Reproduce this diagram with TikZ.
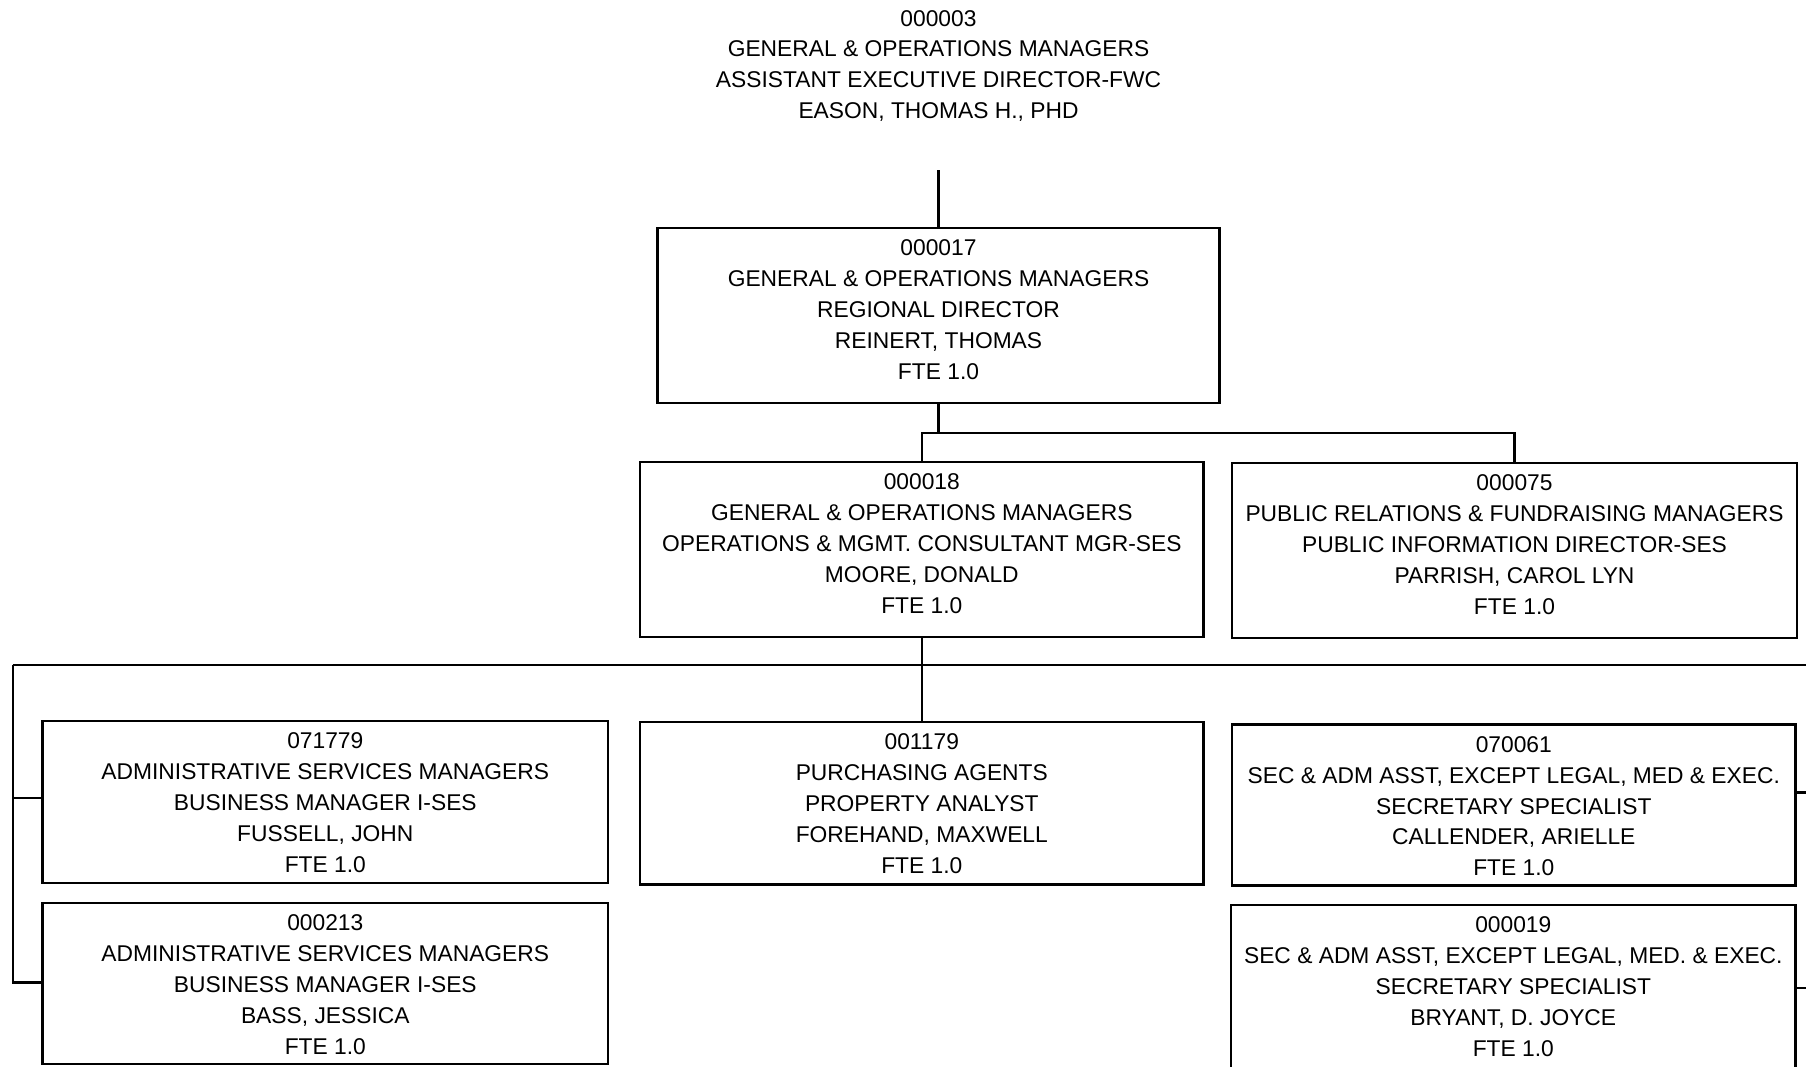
\documentclass[tikz,border=0pt]{standalone}
\usepackage{fontspec}
\setmainfont{Liberation Sans}
\begin{document}
\begin{tikzpicture}[x=1pt,y=-1pt,
  box/.style={draw=black, line width=2.3pt, rectangle, inner sep=0pt},
  txt/.style={align=center, inner sep=0pt, anchor=north,
    font=\fontsize{22.8}{30.8}\selectfont},
  conn/.style={draw=black, line width=2.1pt}]
\useasboundingbox (0,0) rectangle (1806,1066);
\clip (0,0) rectangle (1806,1066);

% top position (no frame)
\node[txt] (t03) at (938.5,10) {000003\\GENERAL \& OPERATIONS MANAGERS\\ASSISTANT EXECUTIVE DIRECTOR-FWC\\EASON, THOMAS H., PHD};
\coordinate (t03foot) at (938.5,170);

% boxes
\node[box, minimum width=562pt, minimum height=175pt] (b17) at (938.5,315.5) {};
\node[box, minimum width=563.6pt, minimum height=175pt] (b18) at (921.8,549.5) {};
\node[box, minimum width=565pt, minimum height=175pt] (b75) at (1514.5,550.5) {};
\node[box, minimum width=565.4pt, minimum height=162pt] (b71779) at (325.3,802) {};
\node[box, minimum width=565.4pt, minimum height=161pt] (b213) at (325.3,983.5) {};
\node[box, minimum width=563.5pt, minimum height=162.6pt] (b1179) at (921.8,803.3) {};
\node[box, minimum width=563.6pt, minimum height=161pt] (b70061) at (1513.8,805) {};
\node[box, minimum width=564.6pt, minimum height=163pt] (b19) at (1513.3,986.5) {};

% box texts
\node[txt] (t17) at ([yshift=-13pt]b17.north) {000017\\GENERAL \& OPERATIONS MANAGERS\\REGIONAL DIRECTOR\\REINERT, THOMAS\\FTE 1.0};
\node[txt] (t18) at ([yshift=-13pt]b18.north) {000018\\GENERAL \& OPERATIONS MANAGERS\\OPERATIONS \& MGMT. CONSULTANT MGR-SES\\MOORE, DONALD\\FTE 1.0};
\node[txt] (t75) at ([yshift=-13pt]b75.north) {000075\\PUBLIC RELATIONS \& FUNDRAISING MANAGERS\\PUBLIC INFORMATION DIRECTOR-SES\\PARRISH, CAROL LYN\\FTE 1.0};
\node[txt] (t71779) at ([yshift=-13pt]b71779.north) {071779\\ADMINISTRATIVE SERVICES MANAGERS\\BUSINESS MANAGER I-SES\\FUSSELL, JOHN\\FTE 1.0};
\node[txt] (t213) at ([yshift=-13pt]b213.north) {000213\\ADMINISTRATIVE SERVICES MANAGERS\\BUSINESS MANAGER I-SES\\BASS, JESSICA\\FTE 1.0};
\node[txt] (t1179) at ([yshift=-13pt]b1179.north) {001179\\PURCHASING AGENTS\\PROPERTY ANALYST\\FOREHAND, MAXWELL\\FTE 1.0};
\node[txt] (t70061) at ([yshift=-13pt]b70061.north) {070061\\SEC \& ADM ASST, EXCEPT LEGAL, MED \& EXEC.\\SECRETARY SPECIALIST\\CALLENDER, ARIELLE\\FTE 1.0};
\node[txt] (t19) at ([yshift=-13pt]b19.north) {000019\\SEC \& ADM ASST, EXCEPT LEGAL, MED. \& EXEC.\\SECRETARY SPECIALIST\\BRYANT, D. JOYCE\\FTE 1.0};

% bus coordinates
\coordinate (fork17) at (938.5,433);
\coordinate (busL) at (12.7,664.6);
\coordinate (busR) at (1814,664.6);

% connectors
\draw[conn] (t03foot) -- (b17.north);
\draw[conn] (b17.south) -- (fork17);
\draw[conn] (b18.north) |- (fork17);
\draw[conn] (b75.north) |- (fork17);
\draw[conn] (b18.south) -- (b1179.north);
\draw[conn] (busL) -- (busR);
\draw[conn] (busL) |- ([yshift=4pt]b71779.west);
\draw[conn] (busL) |- ([yshift=1pt]b213.west);
\draw[conn] (busR) |- ([yshift=12.5pt]b70061.east);
\draw[conn] (busR) |- ([yshift=-1.5pt]b19.east);
\end{tikzpicture}
\end{document}
